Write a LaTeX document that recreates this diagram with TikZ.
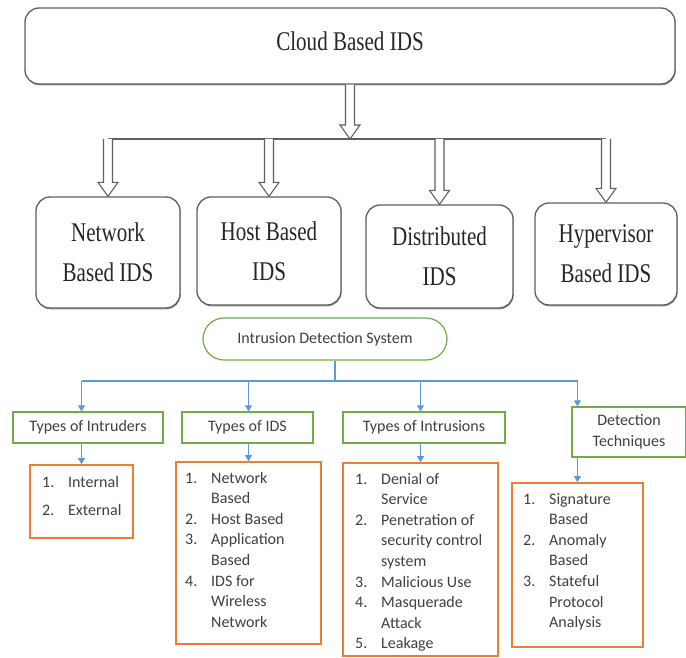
\documentclass[tikz,border=0pt]{standalone}
\usepackage{fontspec}
\setmainfont{Carlito}
\newfontfamily\condserif[FakeStretch=0.78]{Liberation Serif}
\usetikzlibrary{arrows.meta,shadows,calc}
\definecolor{idsgreen}{RGB}{112,173,71}
\definecolor{idsorange}{RGB}{237,125,49}
\definecolor{idsblue}{RGB}{91,155,213}
\definecolor{boxgray}{RGB}{95,95,95}
\definecolor{textgray}{RGB}{64,64,64}

% list number with fixed indent
\newcommand{\num}[1]{\makebox[26pt][l]{#1}}
% hollow block arrow pointing down, from #1 to #2
\newcommand{\blockarrow}[2]{%
  \draw[hollow] let \p1=(#1), \p2=(#2) in
    (\x1-4.5pt,\y1) -- (\x1-4.5pt,\y2+14pt) -- (\x1-10pt,\y2+14pt) -- (\x2,\y2)
    -- (\x1+10pt,\y2+14pt) -- (\x1+4.5pt,\y2+14pt) -- (\x1+4.5pt,\y1);}

\tikzset{
  topbox/.style={draw=boxgray, line width=1.3pt, rounded corners=14pt, fill=white,
    drop shadow={shadow xshift=0.6pt, shadow yshift=-1.3pt, fill=black!60, opacity=0.7}},
  toplabel/.style={font=\condserif\fontsize{27}{40}\selectfont, text=black!85, align=center},
  hollow/.style={draw=boxgray, line width=1.1pt, fill=white, line join=miter},
  greenbox/.style={draw=idsgreen, line width=1.2pt, fill=white, font=\fontsize{16}{20.6}\selectfont,
    text=textgray, align=center, inner sep=0pt},
  orangebox/.style={draw=idsorange, line width=1.6pt, fill=white, inner sep=0pt},
  listtext/.style={font=\fontsize{16}{20.6}\selectfont, text=textgray, inner sep=0pt, anchor=base west},
  bline/.style={draw=idsblue, line width=1.1pt},
  barrow/.style={bline, -{Triangle[width=7pt,length=6pt]}}
}

\begin{document}
\begin{tikzpicture}[x=1pt,y=-1pt]
\useasboundingbox (0,0) rectangle (686,658);

% cloud part
\node[topbox, minimum width=650, minimum height=76] (cloud) at (350,46) {};
\node[toplabel] (cloudlbl) at ([yshift=5pt]cloud.center) {Cloud Based IDS};
\node[topbox, minimum width=144, minimum height=111] (net) at (108,252.5) {};
\node[topbox, minimum width=144, minimum height=108] (host) at (269,251) {};
\node[topbox, minimum width=147, minimum height=103] (dist) at (439.5,256.5) {};
\node[topbox, minimum width=142, minimum height=102] (hyp) at (606,254) {};
\node[toplabel] (netlbl) at (net.center) {Network\\Based IDS};
\node[toplabel] (hostlbl) at (host.center) {Host Based\\IDS};
\node[toplabel] (distlbl) at (dist.center) {Distributed\\IDS};
\node[toplabel] (hyplbl) at (hyp.center) {Hypervisor\\Based IDS};

\coordinate (split) at (350,139);
\draw[boxgray, line width=1.1pt] (net.north |- split) -- (hyp.north |- split);
\blockarrow{cloud.south}{split}
\foreach \b in {net,host,dist,hyp} {\blockarrow{\b.north |- split}{\b.north}}

% intrusion detection part
\node[draw=idsgreen, line width=1.2pt, fill=white, rounded corners=21pt, minimum width=244,
  minimum height=42, font=\fontsize{16}{20.6}\selectfont, text=textgray] (isys) at (325,339)
  {Intrusion Detection System};

\node[greenbox, minimum width=150, minimum height=31] (intr) at (88,427.5) {Types of Intruders};
\node[greenbox, minimum width=131, minimum height=31] (tids) at (247.5,427.5) {Types of IDS};
\node[greenbox, minimum width=162, minimum height=31] (tint) at (424,427.5) {Types of Intrusions};
\node[greenbox, minimum width=114, minimum height=50] (dtec) at (629,432) {Detection\\Techniques};

\node[orangebox, minimum width=103, minimum height=73] (lintr) at (81.5,501.5) {};
\node[orangebox, minimum width=145, minimum height=182] (lids) at (248.5,553) {};
\node[orangebox, minimum width=155, minimum height=193] (lint) at (420.5,559.5) {};
\node[orangebox, minimum width=131, minimum height=164] (ldet) at (577.5,565) {};

\node[listtext] (tintr) at (42,487) {\begin{tabular}[t]{@{}l@{}}
  \num{1.}Internal\\[7.4pt] \num{2.}External\end{tabular}};
\node[listtext] (tids2) at (185,483) {\begin{tabular}[t]{@{}l@{}}
  \num{1.}Network\\ \num{}Based\\ \num{2.}Host Based\\ \num{3.}Application\\
  \num{}Based\\ \num{4.}IDS for\\ \num{}Wireless\\ \num{}Network\end{tabular}};
\node[listtext] (tint2) at (355,484) {\begin{tabular}[t]{@{}l@{}}
  \num{1.}Denial of\\ \num{}Service\\ \num{2.}Penetration of\\ \num{}security control\\
  \num{}system\\ \num{3.}Malicious Use\\ \num{4.}Masquerade\\ \num{}Attack\\
  \num{5.}Leakage\end{tabular}};
\node[listtext] (tdet2) at (523,504) {\begin{tabular}[t]{@{}l@{}}
  \num{1.}Signature\\ \num{}Based\\ \num{2.}Anomaly\\ \num{}Based\\ \num{3.}Stateful\\
  \num{}Protocol\\ \num{}Analysis\end{tabular}};

% blue connectors
\coordinate (bus) at (335,381);
\draw[bline] (isys.south -| bus) -- (bus);
\draw[bline] (bus -| lintr.north) -- (bus -| ldet.north);
\draw[barrow] (bus -| lintr.north) -- (intr.north -| lintr.north);
\draw[barrow] (bus -| lids.north) -- (tids.north -| lids.north);
\draw[barrow] (bus -| lint.north) -- (tint.north -| lint.north);
\draw[barrow] (bus -| ldet.north) -- (dtec.north -| ldet.north);
\draw[barrow] (intr.south -| lintr.north) -- (lintr.north);
\draw[barrow] (tids.south -| lids.north) -- (lids.north);
\draw[barrow] (tint.south -| lint.north) -- (lint.north);
\draw[barrow] (dtec.south -| ldet.north) -- (ldet.north);
\end{tikzpicture}
\end{document}
